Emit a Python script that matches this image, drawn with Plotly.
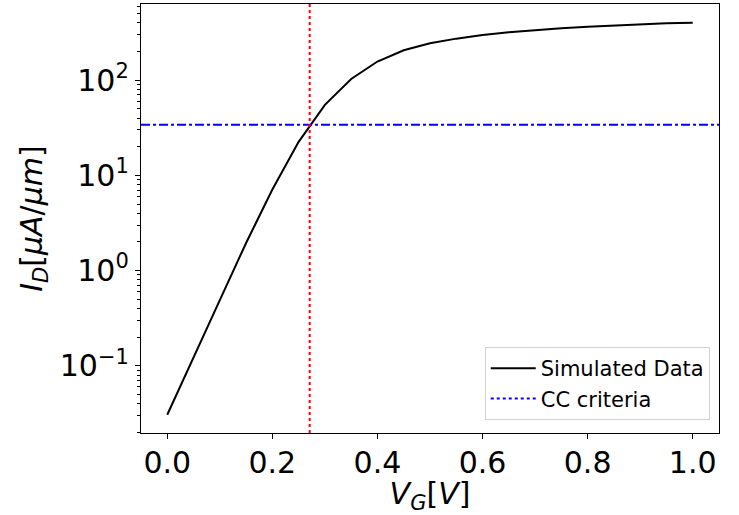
import plotly.graph_objects as go

# Data
vg = [0.0, 0.05, 0.10, 0.15, 0.20, 0.25, 0.30, 0.35, 0.40, 0.45, 0.50,
      0.55, 0.60, 0.65, 0.70, 0.75, 0.80, 0.85, 0.90, 0.95, 1.0]
id_ua = [0.0306, 0.12, 0.49, 1.95, 7.1, 22.5, 55, 103, 157, 206, 244,
         273, 298, 318, 337, 352, 364, 376, 387, 395, 402]
cc_current = 34.0
vth = 0.271

y_tickvals = [0.1, 1, 10, 100]
y_ticktext = ["10<sup>\u22121</sup>", "10<sup>0</sup>", "10<sup>1</sup>", "10<sup>2</sup>"]
y_minorvals = [m * d for d in [0.01, 0.1, 1, 10, 100] for m in range(2, 10)]
x_tickvals = [0.0, 0.2, 0.4, 0.6, 0.8, 1.0]
x_ticktext = ["0.0", "0.2", "0.4", "0.6", "0.8", "1.0"]

FONT = "DejaVu Sans"

fig = go.Figure()
fig.add_trace(go.Scatter(x=vg, y=id_ua, mode="lines", name="Simulated Data",
                         line=dict(color="black", width=2)))
# legend entry for the criteria
fig.add_trace(go.Scatter(x=[None], y=[None], mode="lines", name="CC criteria",
                         line=dict(color="blue", width=2, dash="dot")))

fig.add_hline(y=cc_current, line=dict(color="blue", width=2, dash="dashdot"))
fig.add_vline(x=vth, line=dict(color="red", width=2, dash="dot"))

fig.update_layout(
    width=739, height=515,
    margin=dict(l=141, r=20, t=4, b=82),
    paper_bgcolor="white", plot_bgcolor="white",
    font=dict(family=FONT, size=30, color="black"),
    showlegend=True,
    legend=dict(x=0.984, y=0.03, xanchor="right", yanchor="bottom",
                bgcolor="white", bordercolor="#d0d0d0", borderwidth=1,
                itemwidth=45,
                font=dict(family=FONT, size=21, color="black")),
)
fig.update_xaxes(
    range=[-0.05, 1.05], tickvals=x_tickvals, ticktext=x_ticktext,
    showgrid=False, zeroline=False, showline=True, linecolor="black",
    linewidth=1.3, mirror=True, ticks="outside", ticklen=5, tickwidth=1.3,
    tickcolor="black", tickfont=dict(size=30), ticklabelstandoff=-2,
    title=dict(text="<i>V</i><sub><i>G</i></sub>[<i>V</i>]", font=dict(size=30), standoff=8),
)
fig.update_yaxes(
    type="log", range=[-1.706, 2.80], tickvals=y_tickvals, ticktext=y_ticktext,
    showgrid=False, zeroline=False, showline=True, linecolor="black",
    linewidth=1.3, mirror=True, ticks="outside", ticklen=5, tickwidth=1.3,
    tickcolor="black", tickfont=dict(size=30),
    minor=dict(tickvals=y_minorvals, ticks="outside", ticklen=3, tickwidth=1,
               tickcolor="black", showgrid=False),
    title=dict(text="<i>I</i><sub><i>D</i></sub>[<i>\u03bcA</i>/<i>\u03bcm</i>]",
               font=dict(size=30), standoff=8),
)

fig.write_html("out.html", config={"displayModeBar": False})

# remove the default page margin so the figure sits at the window origin
with open("out.html", "r", encoding="utf-8") as f:
    html = f.read()
html = html.replace("<body>", '<body style="margin:0;padding:0;overflow:hidden">', 1)
with open("out.html", "w", encoding="utf-8") as f:
    f.write(html)
